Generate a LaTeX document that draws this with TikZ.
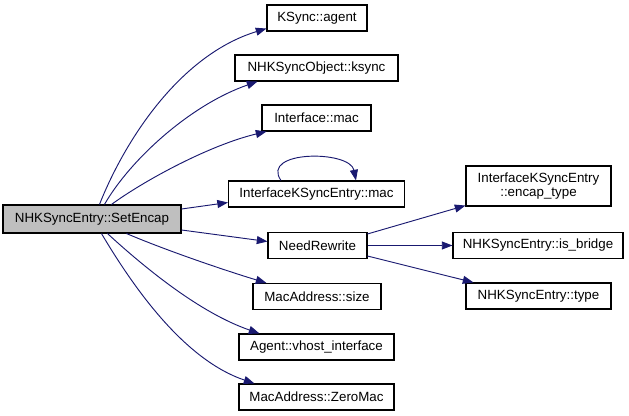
\documentclass[tikz,border=0pt]{standalone}
\usepackage{fontspec}
\setmainfont{Liberation Sans}
\usetikzlibrary{arrows.meta,calc}
\definecolor{edgeblue}{HTML}{191970}
\definecolor{mainfill}{HTML}{BFBFBF}
\tikzset{
  box/.style={draw=black, line width=0.8pt, fill=white, rectangle, inner sep=0pt,
    minimum height=19.5pt, font=\fontsize{10pt}{11pt}\selectfont, align=center},
  mainbox/.style={box, fill=mainfill, minimum height=21pt},
  call/.style={draw=edgeblue, line width=0.7pt, -{Triangle[length=8pt,width=6pt]}}
}
\begin{document}
\begin{tikzpicture}[x=0.75pt,y=-0.75pt]
\useasboundingbox (0,0) rectangle (629,416);
\node[mainbox, minimum width=133.5pt] (main) at (92,219) {NHKSyncEntry::SetEncap};
\node[box, minimum width=75pt] (agent) at (317,18) {KSync::agent};
\node[box, minimum width=122.25pt] (ksync) at (316.5,68) {NHKSyncObject::ksync};
\node[box, minimum width=81.75pt] (imac) at (316.5,118) {Interface::mac};
\node[box, minimum width=132pt] (ikmac) at (316.5,194) {InterfaceKSyncEntry::mac};
\node[box, minimum width=74.25pt] (need) at (317.5,245.5) {NeedRewrite};
\node[box, minimum width=96pt] (size) at (317,296.5) {MacAddress::size};
\node[box, minimum width=116.25pt] (vhost) at (316.5,347) {Agent::vhost\_interface};
\node[box, minimum width=116.25pt] (zero) at (316.5,397) {MacAddress::ZeroMac};
\node[box, minimum width=108.75pt, minimum height=30pt, font=\fontsize{10pt}{10.5pt}\selectfont] (encap) at (538.5,186) {InterfaceKSyncEntry\\::encap\_type};
\node[box, minimum width=127.5pt] (bridge) at (538,245.5) {NHKSyncEntry::is\_bridge};
\node[box, minimum width=108.75pt] (type) at (538.5,296) {NHKSyncEntry::type};

\draw[call] ($(main.north west)+(97,0)$) .. controls (125,140) and (180,55) .. ($(agent.south west)+(0,-3)$);
\draw[call] ($(main.north west)+(102,0)$) .. controls (130,160) and (190,105) .. ($(ksync.south west)+(23,0)$);
\draw[call] ($(main.north west)+(109,0)$) .. controls (145,180) and (210,145) .. ($(imac.south west)+(5,0)$);
\draw[call] ($(main.east)+(0,-10)$) -- ($(ikmac.south west)+(0,-5)$);
\draw[call] ($(main.east)+(0,11)$) -- ($(need.west)+(0,-4)$);
\draw[call] ($(main.south west)+(124,0)$) .. controls (170,252) and (230,272) .. ($(size.north west)+(14,0)$);
\draw[call] ($(main.south west)+(105,0)$) .. controls (145,268) and (200,313) .. ($(vhost.north west)+(21,0)$);
\draw[call] ($(main.south west)+(99,0)$) .. controls (135,290) and (185,360) .. ($(zero.north west)+(16,0)$);
\draw[call] ($(ikmac.north west)+(53,0)$) .. controls (260,150) and (350,150) .. ($(ikmac.north west)+(128,0)$);
\draw[call] ($(need.north east)+(0,2)$) -- ($(encap.south west)+(0,-1)$);
\draw[call] (need.east) -- (bridge.west);
\draw[call] ($(need.south east)+(0,-3)$) -- ($(type.north west)+(8,0)$);
\end{tikzpicture}
\end{document}
